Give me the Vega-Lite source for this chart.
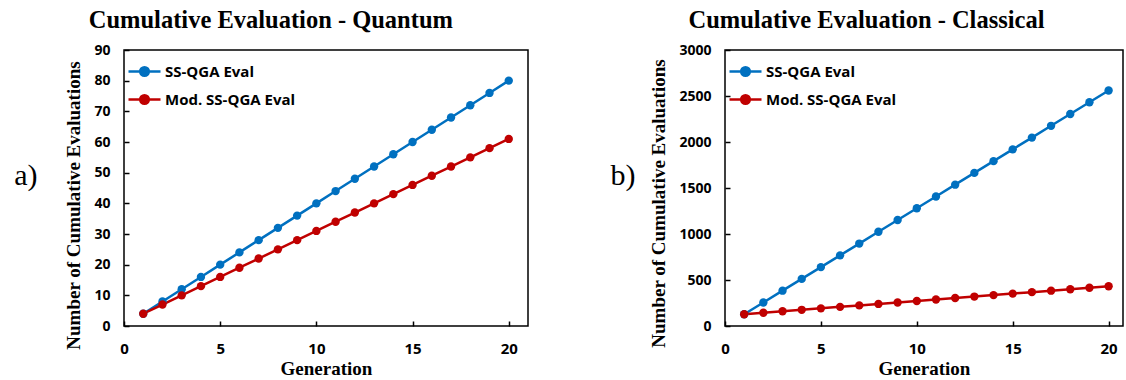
{
  "$schema": "https://vega.github.io/schema/vega-lite/v6.json",
  "background": "white",
  "padding": {"left": 12, "top": 6, "right": 2, "bottom": 2},
  "spacing": 80,
  "config": {
    "view": {"stroke": "black", "strokeWidth": 1.5},
    "axis": {"labelFont": "Open Sans", "labelFontWeight": "bold", "labelColor": "black", "tickColor": "black", "tickWidth": 1.5, "tickSize": -5, "domain": false, "grid": false, "titleFont": "Liberation Serif", "titleFontWeight": "bold", "titleColor": "black", "titleFontSize": 19, "format": "d"},
    "axisX": {"labelFontSize": 15, "labelPadding": 20, "titlePadding": 3, "labelFlush": false},
    "axisY": {"labelFontSize": 14, "labelPadding": 19, "titlePadding": 10},
    "title": {"font": "Liberation Serif", "fontSize": 24.5, "fontWeight": "bold", "color": "black", "anchor": "middle", "frame": "bounds", "offset": 10},
    "legend": {"orient": "none", "legendX": 3, "legendY": 4, "labelFont": "Open Sans", "labelFontWeight": "bold", "labelFontSize": 15, "labelColor": "black", "symbolType": "M-1,0H1M-0.27,0A0.27,0.27,0,1,0,0.27,0A0.27,0.27,0,1,0,-0.27,0", "symbolSize": 1024, "symbolStrokeWidth": 2.5, "labelOffset": 3, "rowPadding": 1}
  },
  "datasets": {
    "quantum": [
      {"gen": 1, "series": "SS-QGA Eval", "value": 4},
      {"gen": 2, "series": "SS-QGA Eval", "value": 8},
      {"gen": 3, "series": "SS-QGA Eval", "value": 12},
      {"gen": 4, "series": "SS-QGA Eval", "value": 16},
      {"gen": 5, "series": "SS-QGA Eval", "value": 20},
      {"gen": 6, "series": "SS-QGA Eval", "value": 24},
      {"gen": 7, "series": "SS-QGA Eval", "value": 28},
      {"gen": 8, "series": "SS-QGA Eval", "value": 32},
      {"gen": 9, "series": "SS-QGA Eval", "value": 36},
      {"gen": 10, "series": "SS-QGA Eval", "value": 40},
      {"gen": 11, "series": "SS-QGA Eval", "value": 44},
      {"gen": 12, "series": "SS-QGA Eval", "value": 48},
      {"gen": 13, "series": "SS-QGA Eval", "value": 52},
      {"gen": 14, "series": "SS-QGA Eval", "value": 56},
      {"gen": 15, "series": "SS-QGA Eval", "value": 60},
      {"gen": 16, "series": "SS-QGA Eval", "value": 64},
      {"gen": 17, "series": "SS-QGA Eval", "value": 68},
      {"gen": 18, "series": "SS-QGA Eval", "value": 72},
      {"gen": 19, "series": "SS-QGA Eval", "value": 76},
      {"gen": 20, "series": "SS-QGA Eval", "value": 80},
      {"gen": 1, "series": "Mod. SS-QGA Eval", "value": 4},
      {"gen": 2, "series": "Mod. SS-QGA Eval", "value": 7},
      {"gen": 3, "series": "Mod. SS-QGA Eval", "value": 10},
      {"gen": 4, "series": "Mod. SS-QGA Eval", "value": 13},
      {"gen": 5, "series": "Mod. SS-QGA Eval", "value": 16},
      {"gen": 6, "series": "Mod. SS-QGA Eval", "value": 19},
      {"gen": 7, "series": "Mod. SS-QGA Eval", "value": 22},
      {"gen": 8, "series": "Mod. SS-QGA Eval", "value": 25},
      {"gen": 9, "series": "Mod. SS-QGA Eval", "value": 28},
      {"gen": 10, "series": "Mod. SS-QGA Eval", "value": 31},
      {"gen": 11, "series": "Mod. SS-QGA Eval", "value": 34},
      {"gen": 12, "series": "Mod. SS-QGA Eval", "value": 37},
      {"gen": 13, "series": "Mod. SS-QGA Eval", "value": 40},
      {"gen": 14, "series": "Mod. SS-QGA Eval", "value": 43},
      {"gen": 15, "series": "Mod. SS-QGA Eval", "value": 46},
      {"gen": 16, "series": "Mod. SS-QGA Eval", "value": 49},
      {"gen": 17, "series": "Mod. SS-QGA Eval", "value": 52},
      {"gen": 18, "series": "Mod. SS-QGA Eval", "value": 55},
      {"gen": 19, "series": "Mod. SS-QGA Eval", "value": 58},
      {"gen": 20, "series": "Mod. SS-QGA Eval", "value": 61}
    ],
    "classical": [
      {"gen": 1, "series": "SS-QGA Eval", "value": 128},
      {"gen": 2, "series": "SS-QGA Eval", "value": 256},
      {"gen": 3, "series": "SS-QGA Eval", "value": 384},
      {"gen": 4, "series": "SS-QGA Eval", "value": 512},
      {"gen": 5, "series": "SS-QGA Eval", "value": 640},
      {"gen": 6, "series": "SS-QGA Eval", "value": 768},
      {"gen": 7, "series": "SS-QGA Eval", "value": 896},
      {"gen": 8, "series": "SS-QGA Eval", "value": 1024},
      {"gen": 9, "series": "SS-QGA Eval", "value": 1152},
      {"gen": 10, "series": "SS-QGA Eval", "value": 1280},
      {"gen": 11, "series": "SS-QGA Eval", "value": 1408},
      {"gen": 12, "series": "SS-QGA Eval", "value": 1536},
      {"gen": 13, "series": "SS-QGA Eval", "value": 1664},
      {"gen": 14, "series": "SS-QGA Eval", "value": 1792},
      {"gen": 15, "series": "SS-QGA Eval", "value": 1920},
      {"gen": 16, "series": "SS-QGA Eval", "value": 2048},
      {"gen": 17, "series": "SS-QGA Eval", "value": 2176},
      {"gen": 18, "series": "SS-QGA Eval", "value": 2304},
      {"gen": 19, "series": "SS-QGA Eval", "value": 2432},
      {"gen": 20, "series": "SS-QGA Eval", "value": 2560},
      {"gen": 1, "series": "Mod. SS-QGA Eval", "value": 128},
      {"gen": 2, "series": "Mod. SS-QGA Eval", "value": 144},
      {"gen": 3, "series": "Mod. SS-QGA Eval", "value": 160},
      {"gen": 4, "series": "Mod. SS-QGA Eval", "value": 176},
      {"gen": 5, "series": "Mod. SS-QGA Eval", "value": 192},
      {"gen": 6, "series": "Mod. SS-QGA Eval", "value": 208},
      {"gen": 7, "series": "Mod. SS-QGA Eval", "value": 224},
      {"gen": 8, "series": "Mod. SS-QGA Eval", "value": 240},
      {"gen": 9, "series": "Mod. SS-QGA Eval", "value": 256},
      {"gen": 10, "series": "Mod. SS-QGA Eval", "value": 272},
      {"gen": 11, "series": "Mod. SS-QGA Eval", "value": 288},
      {"gen": 12, "series": "Mod. SS-QGA Eval", "value": 304},
      {"gen": 13, "series": "Mod. SS-QGA Eval", "value": 320},
      {"gen": 14, "series": "Mod. SS-QGA Eval", "value": 336},
      {"gen": 15, "series": "Mod. SS-QGA Eval", "value": 352},
      {"gen": 16, "series": "Mod. SS-QGA Eval", "value": 368},
      {"gen": 17, "series": "Mod. SS-QGA Eval", "value": 384},
      {"gen": 18, "series": "Mod. SS-QGA Eval", "value": 400},
      {"gen": 19, "series": "Mod. SS-QGA Eval", "value": 416},
      {"gen": 20, "series": "Mod. SS-QGA Eval", "value": 432}
    ]
  },
  "hconcat": [
    {
      "title": "Cumulative Evaluation - Quantum",
      "width": 404,
      "height": 276,
      "data": {"name": "quantum"},
      "layer": [
        {
          "mark": {"type": "line", "strokeWidth": 2.5, "point": {"filled": true, "size": 70, "opacity": 1}},
          "encoding": {
            "x": {"field": "gen", "type": "quantitative", "scale": {"domain": [0, 21], "nice": false}, "axis": {"title": "Generation", "values": [0, 5, 10, 15, 20]}},
            "y": {"field": "value", "type": "quantitative", "scale": {"domain": [0, 90], "nice": false}, "axis": {"title": "Number of Cumulative  Evaluations", "values": [0, 10, 20, 30, 40, 50, 60, 70, 80, 90], "titleY": 155}},
            "color": {"field": "series", "type": "nominal", "scale": {"domain": ["SS-QGA Eval", "Mod. SS-QGA Eval"], "range": ["#0070C0", "#C00000"]},
              "legend": {"title": null, "encode": {"symbols": {"update": {"fill": {"signal": "datum.value === 'SS-QGA Eval' ? '#0070C0' : '#C00000'"}, "stroke": {"signal": "datum.value === 'SS-QGA Eval' ? '#0070C0' : '#C00000'"}, "opacity": {"value": 1}}}}}}
          }
        },
        {
          "mark": {"type": "point", "opacity": 0},
          "encoding": {
            "x": {"field": "gen", "type": "quantitative"},
            "y": {"field": "value", "type": "quantitative", "axis": {"orient": "left", "title": "a)", "labels": false, "ticks": false, "domain": false, "grid": false, "offset": 87, "titleAngle": 0, "titleAlign": "right", "titleBaseline": "middle", "titleX": 0, "titleY": 125, "titleFont": "Liberation Serif", "titleFontSize": 30, "titleFontWeight": "normal"}}
          }
        }
      ],
      "resolve": {"scale": {"y": "independent"}}
    },
    {
      "title": "Cumulative Evaluation - Classical",
      "width": 398,
      "height": 276,
      "data": {"name": "classical"},
      "layer": [
        {
          "mark": {"type": "line", "strokeWidth": 2.5, "point": {"filled": true, "size": 70, "opacity": 1}},
          "encoding": {
            "x": {"field": "gen", "type": "quantitative", "scale": {"domain": [0, 20.75], "nice": false}, "axis": {"title": "Generation", "values": [0, 5, 10, 15, 20]}},
            "y": {"field": "value", "type": "quantitative", "scale": {"domain": [0, 3000], "nice": false}, "axis": {"title": "Number of Cumulative Evaluations", "values": [0, 500, 1000, 1500, 2000, 2500, 3000], "titleY": 153}},
            "color": {"field": "series", "type": "nominal", "scale": {"domain": ["SS-QGA Eval", "Mod. SS-QGA Eval"], "range": ["#0070C0", "#C00000"]},
              "legend": {"title": null, "encode": {"symbols": {"update": {"fill": {"signal": "datum.value === 'SS-QGA Eval' ? '#0070C0' : '#C00000'"}, "stroke": {"signal": "datum.value === 'SS-QGA Eval' ? '#0070C0' : '#C00000'"}, "opacity": {"value": 1}}}}}}
          }
        },
        {
          "mark": {"type": "point", "opacity": 0},
          "encoding": {
            "x": {"field": "gen", "type": "quantitative"},
            "y": {"field": "value", "type": "quantitative", "axis": {"orient": "left", "title": "b)", "labels": false, "ticks": false, "domain": false, "grid": false, "offset": 90, "titleAngle": 0, "titleAlign": "right", "titleBaseline": "middle", "titleX": 0, "titleY": 125, "titleFont": "Liberation Serif", "titleFontSize": 30, "titleFontWeight": "normal"}}
          }
        }
      ],
      "resolve": {"scale": {"y": "independent"}}
    }
  ],
  "resolve": {"scale": {"color": "independent"}}
}
